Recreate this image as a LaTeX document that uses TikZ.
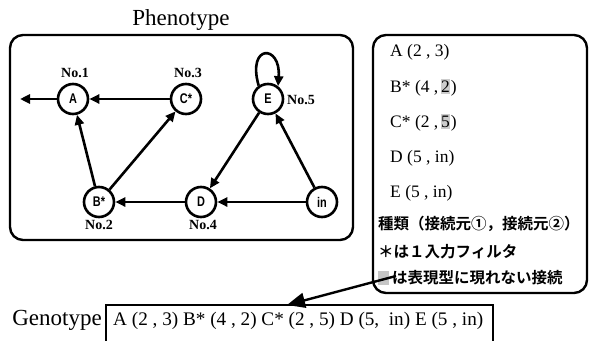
\documentclass[tikz,border=0pt]{standalone}
\usepackage{fontspec}
\setmainfont{Liberation Serif}
\newfontfamily\nodefont{Liberation Sans}[FakeStretch=0.78]
\newfontfamily\jpfont{Noto Sans CJK JP}[BoldFont={* Bold}]
\usetikzlibrary{arrows.meta}
\tikzset{
  gnode/.style={circle,draw,line width=2.6pt,minimum size=30pt,inner sep=0pt,font=\nodefont\bfseries\fontsize{14}{14}\selectfont},
  edge/.style={line width=2.6pt,-{Triangle[length=10pt,width=9pt]}},
  nolab/.style={font=\fontsize{14}{14}\selectfont\bfseries,inner sep=0pt},
  frame/.style={draw,line width=2.4pt,rounded corners=13pt},
  listtxt/.style={anchor=base west,font=\fontsize{17.5}{17.5}\selectfont,inner sep=0pt},
  digit/.style={anchor=base west,font=\fontsize{17.5}{17.5}\selectfont,inner xsep=0.5pt,inner ysep=1.5pt,fill=gray!40},
  jptxt/.style={anchor=west,font=\jpfont\bfseries\fontsize{15.5}{15.5}\selectfont,inner sep=0pt},
  shadebox/.style={fill=gray!45},
}
\begin{document}
\begin{tikzpicture}[x=1pt,y=-1pt]
\useasboundingbox (0,0) rectangle (591,340);
% titles and frames
\node[font=\fontsize{23}{23}\selectfont,anchor=base,inner sep=0pt] (pt) at (181,25) {Phenotype};
\draw[frame] (10,35) rectangle (353,240);
\draw[frame] (373,35) rectangle (587,293);
% nodes
\node[gnode] (A) at (73,99) {A};
\node[gnode] (C) at (186,99) {C*};
\node[gnode] (E) at (268,99) {E};
\node[gnode] (B) at (99,202) {B*};
\node[gnode] (D) at (201,202) {D};
\node[gnode] (in) at (322,202) {in};
\coordinate (out) at (20,99);
% labels
\node[nolab] (l1) at (75,73) {No.1};
\node[nolab] (l3) at (188,73) {No.3};
\node[nolab,anchor=west] (l5) at (287,100) {No.5};
\node[nolab] (l2) at (99,225) {No.2};
\node[nolab] (l4) at (203,225) {No.4};
% edges
\draw[edge] (A) -- (out);
\draw[edge] (C) -- (A);
\draw[edge] (B) -- (A);
\draw[edge] (B) -- (C);
\draw[edge] (D) -- (B);
\draw[edge] (in) -- (D);
\draw[edge] (E) -- (D);
\draw[edge] (in) -- (E);
\draw[edge] (E.125) .. controls +(-12,-42) and +(3,-42) .. (E.52);
% right list
\node[listtxt] (t1) at (390,56) {A (2 , 3)};
\node[listtxt] (t2) at (390,92) {B* (4 ,};
\node[digit] (t2d) at ([xshift=2pt]t2.base east) {2};
\node[listtxt] (t2p) at (t2d.base east) {)};
\node[listtxt] (t3) at (390,127) {C* (2 ,};
\node[digit] (t3d) at ([xshift=2pt]t3.base east) {5};
\node[listtxt] (t3p) at (t3d.base east) {)};
\node[listtxt] (t4) at (390,162) {D (5 , in)};
\node[listtxt] (t5) at (390,197) {E (5 , in)};
\node[jptxt] (j1) at (378,224) {種類（接続元①，接続元②）};
\node[jptxt] (j2) at (378,252) {＊は１入力フィルタ};
\fill[shadebox] (378,271) rectangle (389,285);
\node[jptxt] (j3) at (392,278) {は表現型に現れない接続};
% callout pointer
\coordinate (cs) at (396,276);
\coordinate (ce) at (287,305);
\draw[line width=2.4pt,-{Triangle[length=18pt,width=15pt]}] (cs) -- (ce);
% genotype
\node[font=\fontsize{23}{23}\selectfont,anchor=base east,inner sep=0pt] (gl) at (102,325) {Genotype};
\draw[line width=2pt] (106,345) -- (106,305) -- (493,305) -- (493,345);
\node[font=\fontsize{19.2}{19.2}\selectfont,anchor=base west,inner sep=0pt] (gb) at (113,325) {A (2 , 3) B* (4 , 2) C* (2 , 5) D (5,\ \ in) E (5 , in)};
\end{tikzpicture}
\end{document}
